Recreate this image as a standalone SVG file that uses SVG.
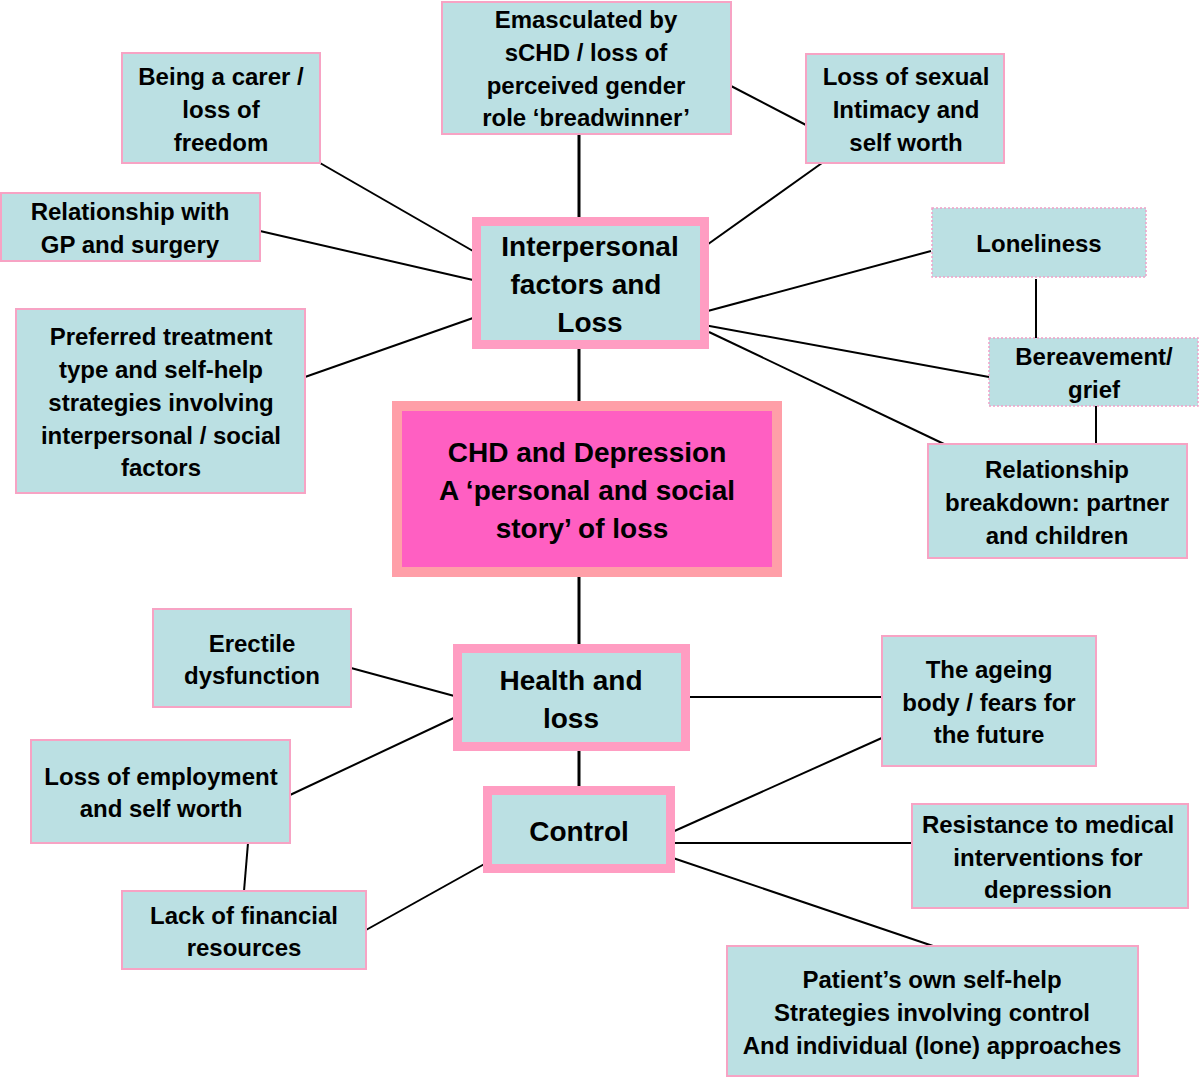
<svg xmlns="http://www.w3.org/2000/svg" width="1200" height="1077" viewBox="0 0 1200 1077">
<style>
.leaf{fill:#bbe0e3;stroke:#f7a3c4;stroke-width:2}
.dot{fill:#bbe0e3;stroke:#f0a0c8;stroke-width:1.5;stroke-dasharray:2 2}
.hub{fill:#bbe0e3;stroke:#ff9dc2;stroke-width:9}
.core{fill:#ff5fc2;stroke:#ff9fa8;stroke-width:10}
text{font-family:"Liberation Sans",Arial,sans-serif;font-weight:bold;fill:#000;text-anchor:middle}
.t{font-size:24px}
.h{font-size:28px}
#connectors line{stroke:#000;stroke-width:2}
#connectors line.thick{stroke-width:3}
</style>
<rect width="1200" height="1077" fill="#fff"/>
<g id="connectors">
<line class="thick" x1="579" y1="134" x2="579" y2="218"/>
<line class="thick" x1="579" y1="348" x2="579" y2="404"/>
<line class="thick" x1="579" y1="570" x2="579" y2="646"/>
<line class="thick" x1="579" y1="749" x2="579" y2="788"/>
<line x1="320" y1="163" x2="473" y2="251"/>
<line x1="260" y1="231" x2="473" y2="280"/>
<line x1="305" y1="377" x2="473" y2="318"/>
<line x1="822" y1="163" x2="704" y2="247"/>
<line x1="731" y1="86" x2="806" y2="125"/>
<line x1="931" y1="251" x2="704" y2="312"/>
<line x1="989" y1="377" x2="704" y2="325"/>
<line x1="944" y1="444" x2="709" y2="332"/>
<line x1="1036" y1="279" x2="1036" y2="338"/>
<line x1="1096" y1="406" x2="1096" y2="444"/>
<line x1="351" y1="668" x2="458" y2="697"/>
<line x1="290" y1="795" x2="458" y2="716"/>
<line x1="248" y1="843" x2="244" y2="891"/>
<line x1="366" y1="930" x2="488" y2="862"/>
<line x1="686" y1="697" x2="882" y2="697"/>
<line x1="670" y1="833" x2="884" y2="737"/>
<line x1="670" y1="843" x2="912" y2="843"/>
<line x1="670" y1="857" x2="933" y2="946"/>
<circle cx="579" cy="562" r="1" fill="#000"/>
</g>
<g id="emasculated"><rect class="leaf" x="442" y="2" width="289" height="132"/>
<text class="t" x="586" y="28">Emasculated by</text><text class="t" x="586" y="61">sCHD / loss of</text><text class="t" x="586" y="94">perceived gender</text><text class="t" x="586" y="126">role ‘breadwinner’</text></g>
<g id="carer"><rect class="leaf" x="122" y="53" width="198" height="110"/>
<text class="t" x="221" y="85">Being a carer /</text><text class="t" x="221" y="118">loss of</text><text class="t" x="221" y="151">freedom</text></g>
<g id="sexual"><rect class="leaf" x="806" y="54" width="198" height="109"/>
<text class="t" x="906" y="85">Loss of sexual</text><text class="t" x="906" y="118">Intimacy and</text><text class="t" x="906" y="151">self worth</text></g>
<g id="gp"><rect class="leaf" x="1" y="193" width="259" height="68"/>
<text class="t" x="130" y="220">Relationship with</text><text class="t" x="130" y="253">GP and surgery</text></g>
<g id="loneliness"><rect class="dot" x="932" y="208" width="214" height="69"/>
<text class="t" x="1039" y="252">Loneliness</text></g>
<g id="bereavement"><rect class="dot" x="989" y="338" width="209" height="68"/>
<text class="t" x="1094" y="365">Bereavement/</text><text class="t" x="1094" y="398">grief</text></g>
<g id="breakdown"><rect class="leaf" x="928" y="444" width="259" height="114"/>
<text class="t" x="1057" y="478">Relationship</text><text class="t" x="1057" y="511">breakdown: partner</text><text class="t" x="1057" y="544">and children</text></g>
<g id="preferred"><rect class="leaf" x="16" y="309" width="289" height="184"/>
<text class="t" x="161" y="345">Preferred treatment</text><text class="t" x="161" y="378">type and self-help</text><text class="t" x="161" y="411">strategies involving</text><text class="t" x="161" y="444">interpersonal / social</text><text class="t" x="161" y="476">factors</text></g>
<g id="interpersonal"><rect class="hub" x="476.5" y="221.5" width="228" height="123"/>
<text class="h" x="590" y="256">Interpersonal</text><text class="h" x="586" y="294">factors and</text><text class="h" x="590" y="332">Loss</text></g>
<g id="core"><rect class="core" x="397" y="406" width="380" height="166"/>
<text class="h" x="587" y="462">CHD and Depression</text><text class="h" x="587" y="500">A ‘personal and social</text><text class="h" x="582" y="538">story’ of loss</text></g>
<g id="erectile"><rect class="leaf" x="153" y="609" width="198" height="98"/>
<text class="t" x="252" y="652">Erectile</text><text class="t" x="252" y="684">dysfunction</text></g>
<g id="health"><rect class="hub" x="457.5" y="648.5" width="228" height="98"/>
<text class="h" x="571" y="690">Health and</text><text class="h" x="571" y="728">loss</text></g>
<g id="employment"><rect class="leaf" x="31" y="740" width="259" height="103"/>
<text class="t" x="161" y="785">Loss of employment</text><text class="t" x="161" y="817">and self worth</text></g>
<g id="ageing"><rect class="leaf" x="882" y="636" width="214" height="130"/>
<text class="t" x="989" y="678">The ageing</text><text class="t" x="989" y="711">body / fears for</text><text class="t" x="989" y="743">the future</text></g>
<g id="control"><rect class="hub" x="487.5" y="790.5" width="183" height="78"/>
<text class="h" x="579" y="841">Control</text></g>
<g id="resistance"><rect class="leaf" x="912" y="804" width="276" height="104"/>
<text class="t" x="1048" y="833">Resistance to medical</text><text class="t" x="1048" y="866">interventions for</text><text class="t" x="1048" y="898">depression</text></g>
<g id="financial"><rect class="leaf" x="122" y="891" width="244" height="78"/>
<text class="t" x="244" y="924">Lack of financial</text><text class="t" x="244" y="956">resources</text></g>
<g id="patient"><rect class="leaf" x="727" y="946" width="411" height="130"/>
<text class="t" x="932" y="988">Patient’s own self-help</text><text class="t" x="932" y="1021">Strategies involving control</text><text class="t" x="932" y="1054">And individual (lone) approaches</text></g>
</svg>
